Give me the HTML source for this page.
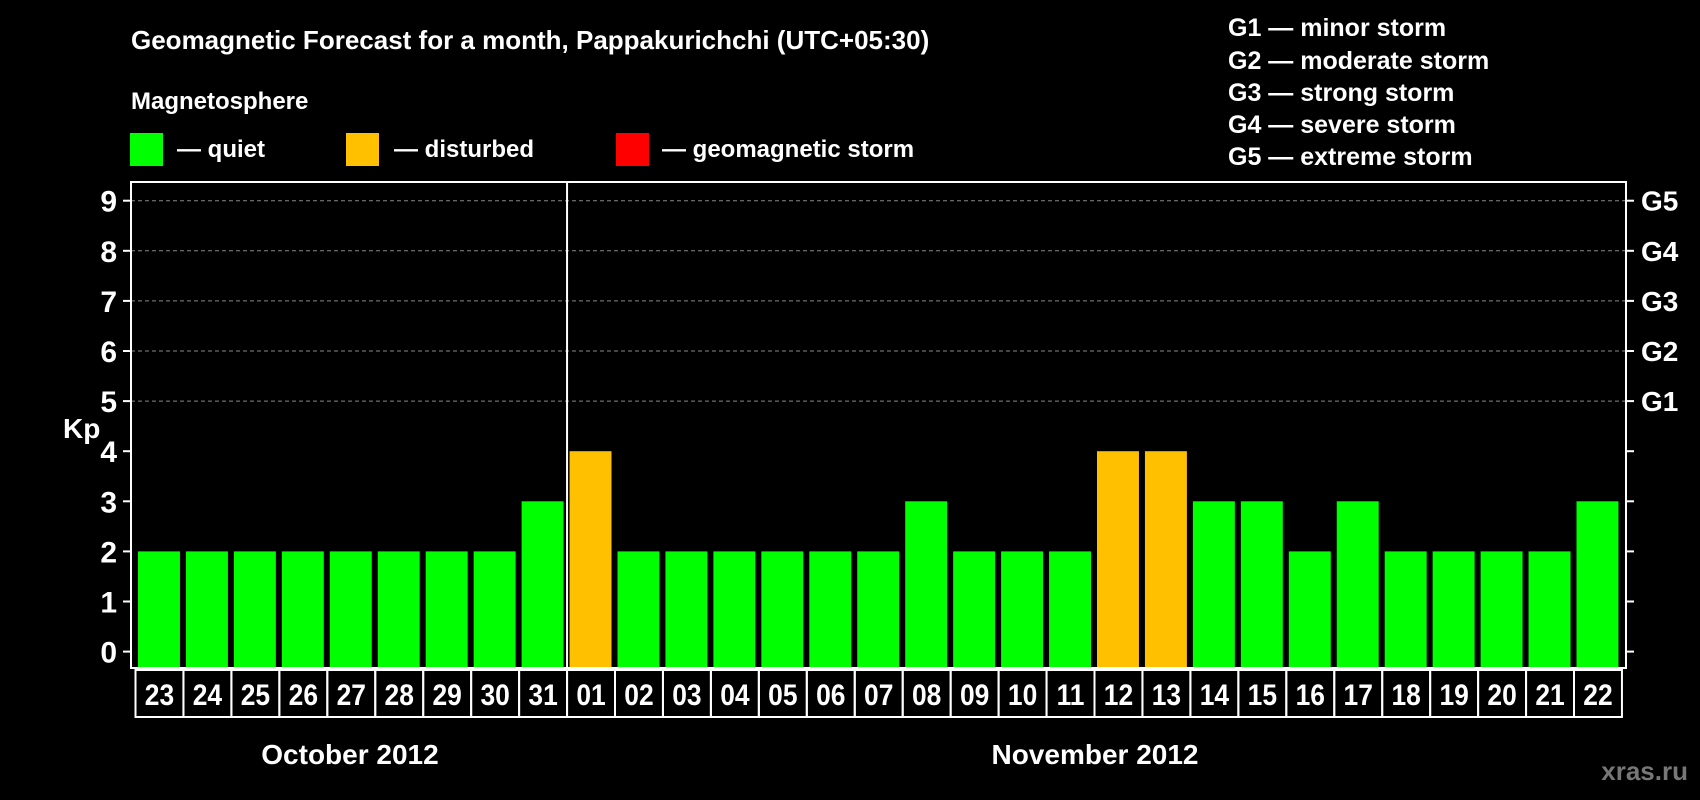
<!DOCTYPE html>
<html><head><meta charset="utf-8"><style>
body{margin:0;background:#000;}
svg{display:block;font-family:"Liberation Sans",Arial,sans-serif;font-weight:bold;}
</style></head><body>
<svg id="c" width="1700" height="800" viewBox="0 0 1700 800">
<rect width="1700" height="800" fill="#000"/>
<text x="131" y="49" fill="#fff" font-size="26">Geomagnetic Forecast for a month, Pappakurichchi (UTC+05:30)</text>
<text x="131" y="109" fill="#fff" font-size="24">Magnetosphere</text>
<g><rect x="130" y="133" width="33" height="33" fill="#00ff00"/><text x="177" y="157" fill="#fff" font-size="24">— quiet</text></g>
<g><rect x="346" y="133" width="33" height="33" fill="#ffc000"/><text x="394" y="157" fill="#fff" font-size="24">— disturbed</text></g>
<g><rect x="616" y="133" width="33" height="33" fill="#ff0000"/><text x="662" y="157" fill="#fff" font-size="24">— geomagnetic storm</text></g>
<g fill="#fff" font-size="25">
<text x="1228" y="36">G1 — minor storm</text>
<text x="1228" y="69">G2 — moderate storm</text>
<text x="1228" y="101">G3 — strong storm</text>
<text x="1228" y="133">G4 — severe storm</text>
<text x="1228" y="165">G5 — extreme storm</text>
</g>
<text x="63" y="438" fill="#fff" font-size="28">Kp</text>
<text x="350" y="764" fill="#fff" font-size="28" text-anchor="middle">October 2012</text>
<text x="1095" y="764" fill="#fff" font-size="28" text-anchor="middle">November 2012</text>
<text x="1688" y="780" fill="#777" font-size="26" text-anchor="end">xras.ru</text>
<g id="plot"></g>
</svg>
<script>
const days = ["23","24","25","26","27","28","29","30","31","01","02","03","04","05","06","07","08","09","10","11","12","13","14","15","16","17","18","19","20","21","22"];
const kp = [2,2,2,2,2,2,2,2,3,4,2,2,2,2,2,2,3,2,2,2,4,4,3,3,2,3,2,2,2,2,3];
const yTicks = [0,1,2,3,4,5,6,7,8,9];
const gLabels = ["","","","","","G1","G2","G3","G4","G5"];
const NS="http://www.w3.org/2000/svg";
const g=document.getElementById('plot');
const L=131,R=1626,T=182,B=668,boxL=135.5,bw=47.95;
const y=v=>651.6-v*50.1;
const x=i=>boxL+i*bw;
function mk(t,a){const e=document.createElementNS(NS,t);for(const k in a)e.setAttribute(k,a[k]);g.appendChild(e);return e;}
yTicks.forEach((v,i)=>{
  if(v>=5){const l=mk('line',{x1:L,x2:R,y1:y(v),y2:y(v),stroke:'#888','stroke-dasharray':'4,3','stroke-width':1});
  
  }
  mk('line',{x1:L-8,x2:L,y1:y(v),y2:y(v),stroke:'#fff','stroke-width':2});
  mk('line',{x1:R,x2:R+8,y1:y(v),y2:y(v),stroke:'#fff','stroke-width':2});
  const t=mk('text',{x:L-14,y:y(v)+11,fill:'#fff','font-size':30,'text-anchor':'end'});t.textContent=v;
  
  
  if(gLabels[i]){const s=mk('text',{x:1641,y:y(v)+10,fill:'#fff','font-size':28});s.textContent=gLabels[i];
  
  }
});
kp.forEach((v,i)=>{
  const c=v>=5?'#ff0000':(v>=4?'#ffc000':'#00ff00');
  const r=mk('rect',{x:x(i)+2.5,y:y(v),width:bw-6,height:B-y(v),fill:c});
  
  
  mk('rect',{x:x(i),y:B+2,width:bw,height:47,fill:'none',stroke:'#fff','stroke-width':2});
  const t=mk('text',{x:0,y:0,fill:'#fff','font-size':30,'text-anchor':'middle',transform:`translate(${x(i)+bw/2},${B+37}) scale(0.88,1)`});
  t.textContent=days[i];
  
  
});
mk('rect',{x:L,y:T,width:R-L,height:B-T,fill:'none',stroke:'#fff','stroke-width':2});
const d=mk('line',{x1:x(9),x2:x(9),y1:T,y2:B,stroke:'#fff','stroke-width':2});


</script>
</body></html>
